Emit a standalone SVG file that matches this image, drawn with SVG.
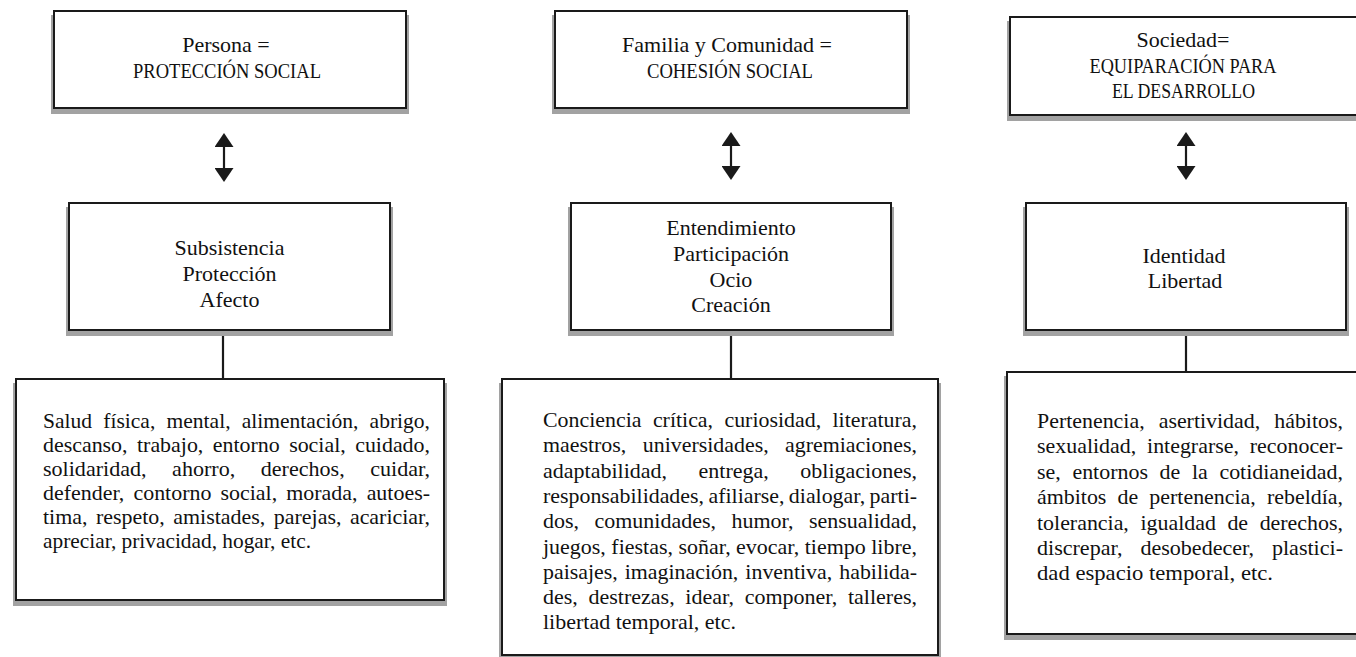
<svg xmlns="http://www.w3.org/2000/svg" width="1356" height="657" viewBox="0 0 1356 657">
<style>
.box{fill:#fff;stroke:#1a1a1a;stroke-width:2}
.shadow{fill:#a2a2a2}
.t{font-family:"Liberation Serif","Times New Roman",serif;font-size:22px;fill:#111}
.c{text-anchor:middle}
.caps{font-size:20.5px}
.conn{stroke:#1a1a1a;stroke-width:2.2;fill:none}
</style>
<defs>
<marker id="head" markerUnits="userSpaceOnUse" markerWidth="14" markerHeight="19" refX="2" refY="9.5" orient="auto-start-reverse">
<path d="M0,0 L14,9.5 L0,19 z" fill="#1a1a1a"/>
</marker>
</defs>
<rect width="1356" height="657" fill="#fff"/>

<g id="connectors">
<line class="conn" x1="224" y1="145" x2="224" y2="170" marker-start="url(#head)" marker-end="url(#head)"/>
<line class="conn" x1="731" y1="144" x2="731" y2="168" marker-start="url(#head)" marker-end="url(#head)"/>
<line class="conn" x1="1186" y1="144" x2="1186" y2="168" marker-start="url(#head)" marker-end="url(#head)"/>
<line class="conn" x1="223" y1="330" x2="223" y2="379"/>
<line class="conn" x1="731" y1="330" x2="731" y2="379"/>
<line class="conn" x1="1186" y1="330" x2="1186" y2="372"/>
</g>

<g id="top-persona">
<rect class="shadow" x="51" y="15" width="358" height="99"/>
<rect class="box" x="54" y="11" width="352" height="97"/>
<text class="t c" x="226" y="52">Persona =</text>
<text class="t c caps" x="227" y="78" textLength="188" lengthAdjust="spacingAndGlyphs">PROTECCIÓN SOCIAL</text>
</g>

<g id="top-familia">
<rect class="shadow" x="552" y="15" width="358" height="99"/>
<rect class="box" x="555" y="11" width="352" height="97"/>
<text class="t c" x="727" y="52">Familia y Comunidad =</text>
<text class="t c caps" x="730" y="78" textLength="166" lengthAdjust="spacingAndGlyphs">COHESIÓN SOCIAL</text>
</g>

<g id="top-sociedad">
<rect class="shadow" x="1007" y="21" width="366" height="100"/>
<rect class="box" x="1010" y="17" width="360" height="98"/>
<text class="t c" x="1183" y="47">Sociedad=</text>
<text class="t c caps" x="1183" y="72.5" textLength="187" lengthAdjust="spacingAndGlyphs">EQUIPARACIÓN PARA</text>
<text class="t c caps" x="1183.5" y="98" textLength="143" lengthAdjust="spacingAndGlyphs">EL DESARROLLO</text>
</g>

<g id="mid-1">
<rect class="shadow" x="66" y="207" width="327" height="129"/>
<rect class="box" x="69" y="203" width="321" height="127"/>
<text class="t c" x="229.5" y="255">Subsistencia</text>
<text class="t c" x="229.5" y="281">Protección</text>
<text class="t c" x="229.5" y="307">Afecto</text>
</g>

<g id="mid-2">
<rect class="shadow" x="568" y="207" width="326" height="129"/>
<rect class="box" x="571" y="203" width="320" height="127"/>
<text class="t c" x="731" y="235">Entendimiento</text>
<text class="t c" x="731" y="261">Participación</text>
<text class="t c" x="731" y="287">Ocio</text>
<text class="t c" x="731" y="312">Creación</text>
</g>

<g id="mid-3">
<rect class="shadow" x="1023" y="207" width="326" height="129"/>
<rect class="box" x="1026" y="203" width="320" height="127"/>
<text class="t c" x="1184" y="263">Identidad</text>
<text class="t c" x="1185" y="288">Libertad</text>
</g>

<g id="bottom-1">
<rect class="shadow" x="13" y="383" width="434" height="223"/>
<rect class="box" x="16" y="379" width="428" height="221"/>
<text class="t" x="43" y="428" textLength="387" lengthAdjust="spacingAndGlyphs" style="word-spacing:6px">Salud física, mental, alimentación, abrigo,</text>
<text class="t" x="43" y="452" textLength="387" lengthAdjust="spacingAndGlyphs" style="word-spacing:4px">descanso, trabajo, entorno social, cuidado,</text>
<text class="t" x="43" y="476" textLength="387" lengthAdjust="spacingAndGlyphs" style="word-spacing:20px">solidaridad, ahorro, derechos, cuidar,</text>
<text class="t" x="43" y="500" textLength="387" lengthAdjust="spacingAndGlyphs" style="word-spacing:3.6px">defender, contorno social, morada, autoes-</text>
<text class="t" x="43" y="524" textLength="387" lengthAdjust="spacingAndGlyphs" style="word-spacing:3px">tima, respeto, amistades, parejas, acariciar,</text>
<text class="t" x="43" y="548" textLength="268" lengthAdjust="spacingAndGlyphs">apreciar, privacidad, hogar, etc.</text>
</g>

<g id="bottom-2">
<rect class="shadow" x="499" y="383" width="442" height="278"/>
<rect class="box" x="502" y="379" width="436" height="276"/>
<text class="t" x="543" y="427" textLength="374" lengthAdjust="spacingAndGlyphs" style="word-spacing:6px">Conciencia crítica, curiosidad, literatura,</text>
<text class="t" x="543" y="452.3" textLength="374" lengthAdjust="spacingAndGlyphs" style="word-spacing:11px">maestros, universidades, agremiaciones,</text>
<text class="t" x="543" y="477.6" textLength="374" lengthAdjust="spacingAndGlyphs" style="word-spacing:26px">adaptabilidad, entrega, obligaciones,</text>
<text class="t" x="543" y="502.9" textLength="374" lengthAdjust="spacingAndGlyphs" style="word-spacing:-1px">responsabilidades, afiliarse, dialogar, parti-</text>
<text class="t" x="543" y="528.2" textLength="374" lengthAdjust="spacingAndGlyphs" style="word-spacing:10px">dos, comunidades, humor, sensualidad,</text>
<text class="t" x="543" y="553.5" textLength="374" lengthAdjust="spacingAndGlyphs">juegos, fiestas, soñar, evocar, tiempo libre,</text>
<text class="t" x="543" y="578.8" textLength="374" lengthAdjust="spacingAndGlyphs" style="word-spacing:1.6px">paisajes, imaginación, inventiva, habilida-</text>
<text class="t" x="543" y="604.1" textLength="374" lengthAdjust="spacingAndGlyphs" style="word-spacing:5.2px">des, destrezas, idear, componer, talleres,</text>
<text class="t" x="543" y="629.4" textLength="193" lengthAdjust="spacingAndGlyphs">libertad temporal, etc.</text>
</g>

<g id="bottom-3">
<rect class="shadow" x="1004" y="376" width="366" height="264"/>
<rect class="box" x="1007" y="372" width="360" height="262"/>
<text class="t" x="1037" y="428" textLength="306" lengthAdjust="spacingAndGlyphs" style="word-spacing:8.6px">Pertenencia, asertividad, hábitos,</text>
<text class="t" x="1037" y="453.4" textLength="306" lengthAdjust="spacingAndGlyphs" style="word-spacing:5.4px">sexualidad, integrarse, reconocer-</text>
<text class="t" x="1037" y="478.8" textLength="306" lengthAdjust="spacingAndGlyphs" style="word-spacing:6.2px">se, entornos de la cotidianeidad,</text>
<text class="t" x="1037" y="504.2" textLength="306" lengthAdjust="spacingAndGlyphs" style="word-spacing:5.7px">ámbitos de pertenencia, rebeldía,</text>
<text class="t" x="1037" y="529.6" textLength="306" lengthAdjust="spacingAndGlyphs" style="word-spacing:6.1px">tolerancia, igualdad de derechos,</text>
<text class="t" x="1037" y="555" textLength="306" lengthAdjust="spacingAndGlyphs" style="word-spacing:12.4px">discrepar, desobedecer, plastici-</text>
<text class="t" x="1037" y="580.4" textLength="236" lengthAdjust="spacingAndGlyphs">dad espacio temporal, etc.</text>
</g>
</svg>
